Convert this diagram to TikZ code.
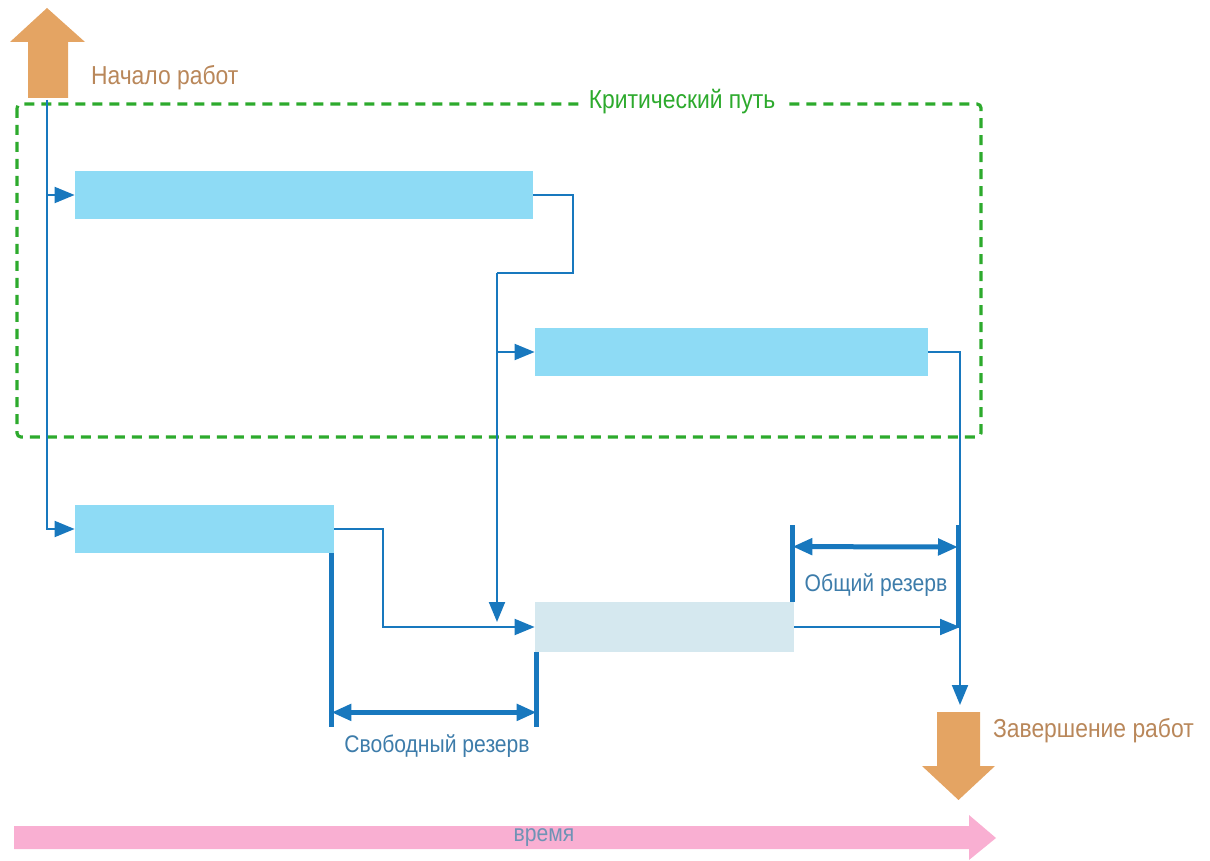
\documentclass[tikz,border=0pt]{standalone}
\usepackage{fontspec}
\setmainfont{Liberation Sans}[FakeStretch=0.88]
\usetikzlibrary{arrows.meta}

\definecolor{taskblue}{HTML}{8EDBF5}
\definecolor{slackblue}{HTML}{D5E8EF}
\definecolor{linkblue}{HTML}{1878BE}
\definecolor{labelblue}{HTML}{3D7CAA}
\definecolor{timeblue}{HTML}{6F93B5}
\definecolor{critgreen}{HTML}{2DAA2D}
\definecolor{milestone}{HTML}{E4A463}
\definecolor{milestonetext}{HTML}{B9875A}
\definecolor{timepink}{HTML}{F9AFD2}

\begin{document}
\begin{tikzpicture}[x=0.5pt,y=-0.5pt,  % pixel grid, y grows downwards
    task/.style={
      rectangle,
      fill=taskblue,
      minimum height=24pt,
      inner sep=0pt
    },
    line/.style={
      draw=linkblue,
      line width=1pt
    },
    link/.style={
      line,
      -{Triangle[length=10pt,width=8pt]}
    },
    reserve/.style={
      draw=linkblue,
      line width=2.5pt
    },
    span/.style={
      reserve,
      {Triangle[length=10pt,width=8pt]}-{Triangle[length=10pt,width=8pt]}
    },
    caption/.style={
      font=\fontsize{12pt}{14pt}\selectfont,
      text=labelblue
    }
  ]
    \useasboundingbox (0,0) rectangle (1210,861);

    % Critical path frame
    \draw[critgreen,line width=1.6pt,dash pattern=on 5pt off 3.5pt,rounded corners=2pt]
      (17,104) rectangle (981,437);
    \node[fill=white,inner xsep=4pt,inner ysep=1pt,text=critgreen,
      font=\fontsize{13pt}{15pt}\selectfont] (crit) at (682,102) {Критический путь};

    % Tasks
    \node[task,minimum width=229pt] (t1) at (304,195) {};
    \node[task,minimum width=196.5pt] (t2) at (731.5,352) {};
    \node[task,minimum width=129.5pt] (t3) at (204.5,529) {};
    \node[task,minimum width=129.5pt,minimum height=25pt,fill=slackblue] (t4) at (664.5,627) {};

    % Start and finish milestones
    \fill[milestone] (28,98) -- (28,42) -- (10,42) -- (47,8) -- (85,42)
      -- (68,42) -- (68,98) -- cycle;
    \node[anchor=west,text=milestonetext,font=\fontsize{13pt}{15pt}\selectfont]
      (start) at (84,78) {Начало работ};
    \fill[milestone] (937,712) -- (980,712) -- (980,766) -- (995,766) -- (958.5,800)
      -- (922,766) -- (937,766) -- cycle;
    \node[anchor=west,text=milestonetext,font=\fontsize{13pt}{15pt}\selectfont]
      (finish) at (986,731) {Завершение работ};

    % Connections
    \coordinate (s0) at (47,100);
    \coordinate (c1) at (497,273);
    \coordinate (d1) at (497,622);
    \coordinate (e1) at (960,705);
    \draw[link] (s0) |- (t1.west);
    \draw[link] (s0) |- (t3.west);
    \draw[line] (t1.east) -- ++(40,0) |- (c1);
    \draw[link] (c1) -- (d1);
    \draw[link] (c1 |- t2.west) -- (t2.west);
    \draw[link] (t2.east) -| (e1);
    \draw[link] (t3.east) -- ++(49,0) |- (t4.west);
    \draw[link] (t4.east) -- (t4.east -| e1);

    % Free slack
    \draw[reserve] ([xshift=-1.5pt]t3.south east) -- ++(0,159) coordinate (fa) -- ++(0,15);
    \draw[reserve] ([xshift=1pt]t4.south west) -- ++(0,60) coordinate (fb) -- ++(0,15);
    \draw[span] (fa) -- (fb);
    \node[caption] (free) at (437,746) {Свободный резерв};

    % Total slack
    \draw[reserve] ([xshift=-1pt]t4.north east) -- ++(0,-55) coordinate (ga) -- ++(0,-22);
    \draw[reserve] (958,628) -- (958,547) coordinate (gb) -- (958,525);
    \draw[span] (ga) -- (gb);
    \node[caption] (total) at (876,585) {Общий резерв};

    % Time axis
    \fill[timepink] (14,826) -- (969,826) -- (969,815) -- (996,838) -- (969,860)
      -- (969,849) -- (14,849) -- cycle;
    \node[text=timeblue,font=\fontsize{12pt}{14pt}\selectfont] (time) at (544,838) {время};

  \end{tikzpicture}
\end{document}
